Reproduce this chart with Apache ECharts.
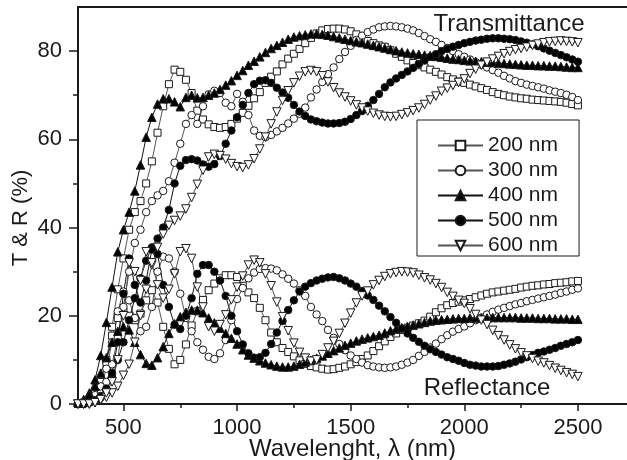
<!DOCTYPE html>
<html>
<head>
<meta charset="utf-8">
<title>T &amp; R spectra</title>
<script src="https://cdn.jsdelivr.net/npm/echarts@6.0.0/dist/echarts.min.js"></script>
<style>
  html, body { margin: 0; padding: 0; background: #fff; }
  #chart { width: 627px; height: 460px; }
</style>
</head>
<body>
<div id="chart"></div>
<script>
// wavelength grid, nm
var wavelength = [
  300, 325, 350, 375, 400, 425, 450, 475, 500,
  525, 550, 575, 600, 625, 650, 675, 700, 725, 750,
  775, 800, 825, 850, 875, 900, 925, 950, 975, 1000,
  1025, 1050, 1075, 1100, 1125, 1150, 1175, 1200, 1225, 1250,
  1275, 1300, 1325, 1350, 1375, 1400, 1425, 1450, 1475, 1500,
  1525, 1550, 1575, 1600, 1625, 1650, 1675, 1700, 1725, 1750,
  1775, 1800, 1825, 1850, 1875, 1900, 1925, 1950, 1975, 2000,
  2025, 2050, 2075, 2100, 2125, 2150, 2175, 2200, 2225, 2250,
  2275, 2300, 2325, 2350, 2375, 2400, 2425, 2450, 2475, 2500
];

// transmittance, %
var t200 = [
  0, 0.3, 1, 2.5, 5, 10, 17.5, 26, 33,
  39.5, 43.5, 46, 50, 55, 61.5, 67.5, 72.5, 75.8, 75.3,
  73.5, 70.5, 66.5, 64.5, 63.4, 62.8, 62.6, 62.8, 63.5, 64.7,
  66, 67.6, 69.3, 70.7, 72.8, 74.2, 75.4, 77, 78.3, 79.4,
  80.5, 81.8, 83, 84, 84.7, 85, 85.1, 85.1, 84.9, 84.5,
  83.8, 83, 82.3, 81.8, 81.3, 81, 80.2, 79.4, 78.7, 77.9,
  77.3, 76.8, 76.3, 75.8, 75.3, 74.7, 74.1, 73.6, 73.1, 72.8,
  72.4, 72, 71.6, 71.2, 70.7, 70.3, 70, 69.7, 69.5, 69.3,
  69.2, 69, 68.9, 68.8, 68.7, 68.6, 68.5, 68.3, 68, 67.7
];
var t300 = [
  0, 0.2, 0.5, 1.2, 2.5, 5, 9, 15, 22,
  30, 36.5, 39.5, 43.5, 46, 47.3, 48.3, 50.5, 54.7, 59,
  63.5, 65.5, 63.5, 67.5, 70.2, 71, 70.5, 68.3, 67.5, 70.3,
  68.5, 65.5, 62, 60.8, 60.5, 61, 61.8, 62.6, 63.6, 64.7,
  65.8, 67.2, 69.5, 71.3, 73, 74.8, 76.3, 78.2, 79.8, 81.2,
  82.5, 83.5, 84.3, 84.9, 85.4, 85.6, 85.7, 85.6, 85.4, 85.1,
  84.7, 84.1, 83.4, 82.7, 82.1, 81.4, 80.7, 80, 79.3, 78.7,
  78.1, 77.5, 76.9, 76.3, 75.7, 75.1, 74.4, 73.8, 73.2, 72.8,
  72.4, 72.1, 71.8, 71.5, 71.1, 70.8, 70.5, 70.1, 69.6, 68.9
];
var t400 = [
  0.5, 1, 2.5, 5.5, 11, 18.5, 26.5, 34.5, 39.5,
  43.5, 48.3, 54.2, 60.5, 65, 68, 69.2, 69.2, 68.5, 67.4,
  69.5, 70, 69.4, 69.5, 70, 70.5, 71.3, 72.3, 73.3, 74.5,
  75.6, 76.8, 77.7, 78.7, 79.7, 80.6, 81.3, 82, 82.7, 83.2,
  83.5, 83.7, 83.9, 83.9, 83.8, 83.6, 83.3, 83, 82.7, 82.4,
  82.1, 81.9, 81.6, 81.3, 81, 80.7, 80.4, 80.1, 79.8, 79.6,
  79.4, 79.3, 79.1, 79, 78.8, 78.6, 78.4, 78.2, 78.1, 77.9,
  77.8, 77.7, 77.6, 77.5, 77.4, 77.3, 77.2, 77.1, 77, 76.9,
  76.8, 76.8, 76.7, 76.7, 76.6, 76.6, 76.5, 76.4, 76.3, 76.3
];
var t500 = [
  0, 0, 0.3, 0.8, 1.8, 3.5, 6, 10, 14,
  19, 24, 28.5, 32.5, 35.5, 37.5, 40, 44, 50, 54,
  55.3, 55.5, 55.2, 54.3, 53.8, 54.4, 56.2, 59, 62, 65,
  67.8, 70.5, 72.5, 73.3, 73.4, 72.8, 71.7, 70.6, 69.4, 67.8,
  66.3, 65.3, 64.5, 64.1, 63.8, 63.6, 63.6, 63.7, 64, 64.6,
  65.5, 66.4, 67.6, 68.9, 70.3, 71.8, 72.9, 73.8, 74.6, 75.4,
  76.2, 77.1, 77.9, 78.7, 79.3, 80, 80.5, 81, 81.4, 81.8,
  82.1, 82.4, 82.6, 82.8, 82.9, 82.9, 82.8, 82.7, 82.5, 82.2,
  81.9, 81.5, 81.1, 80.6, 80.1, 79.6, 79.1, 78.6, 78.1, 77.6
];
var t600 = [
  0, 0, 0, 0.3, 0.8, 1.5, 2.5, 4, 6.5,
  9, 14, 20, 26, 31.5, 35.5, 38.5, 40.5, 41.6, 42.6,
  44.2, 46.8, 49.8, 53, 56, 56.6, 56.3, 55.5, 54.5, 53.8,
  53.6, 54.2, 55.6, 57.8, 60.5, 63.5, 66.2, 68.8, 71, 72.8,
  74.3, 75.3, 75.6, 75.3, 74.4, 73, 71.7, 70.5, 69.6, 68.7,
  67.8, 67.1, 66.4, 65.9, 65.5, 65.2, 65.1, 65.2, 65.6, 66,
  66.5, 67.1, 67.9, 68.9, 69.8, 70.9, 71.6, 72.2, 72.9, 73.7,
  74.9, 75.9, 76.8, 77.5, 78.2, 78.8, 79.4, 79.9, 80.3, 80.6,
  80.9, 81.3, 81.6, 81.9, 82.1, 82.2, 82.3, 82.2, 82.1, 81.9
];

// reflectance, %
var r200 = [
  0, 0.3, 1, 2.5, 5, 9.5, 15.5, 19.5, 21,
  20, 19, 20.5, 23.5, 25.8, 23, 17.5, 12.5, 9, 10,
  13.5, 17.8, 21, 23.6, 25.8, 27.3, 28.5, 29.2, 29.2, 28.8,
  26.8, 25.3, 24, 21.8, 19, 16.2, 14, 12.7, 11.8, 10.8,
  9.9, 9.1, 8.6, 8.3, 8, 7.8, 7.9, 8.2, 8.5, 9,
  9.5, 10.2, 11, 12, 13.1, 14.2, 15.2, 16, 16.8, 17.3,
  17.8, 18.3, 18.9, 19.8, 20.8, 21.7, 22.4, 22.9, 23.2, 23.5,
  23.8, 24.2, 24.6, 25, 25.3, 25.5, 25.7, 25.9, 26.1, 26.4,
  26.6, 26.8, 26.9, 27.1, 27.2, 27.4, 27.5, 27.6, 27.8, 27.9
];
var r300 = [
  0, 0.3, 1, 2, 4, 8, 14, 21, 25.5,
  23.5, 19.5, 16.5, 17.5, 22, 30, 33.4, 33, 30, 25,
  19.5, 16.5, 14, 12.3, 10.7, 10.2, 11.5, 14.5, 19, 23.8,
  26.3, 28.5, 29.8, 30.6, 30.8, 30.7, 30.3, 29.4, 28.4, 27.3,
  25.8, 24.5, 22, 20.3, 18.8, 16.8, 15, 13.6, 12.2, 11,
  10.2, 9.4, 8.8, 8.5, 8.3, 8.2, 8.3, 8.5, 8.9, 9.4,
  10, 10.9, 11.8, 12.8, 13.7, 14.7, 15.6, 16.4, 17, 17.6,
  18.3, 19, 19.6, 20.3, 20.9, 21.4, 21.8, 22.2, 22.6, 22.9,
  23.3, 23.6, 23.9, 24.2, 24.5, 24.8, 25.2, 25.5, 25.9, 26.2
];
var r400 = [
  0.3, 0.8, 2, 4, 7, 10.5, 14, 16.5, 17.5,
  16.8, 14, 11.2, 9.2, 8.8, 10.5, 13, 16, 18.2, 19.8,
  20.8, 21.3, 21.3, 20.7, 19.5, 18.4, 17.2, 16, 14.9, 13.6,
  12.3, 11.1, 10.4, 9.8, 9.3, 8.9, 8.6, 8.4, 8.4, 8.6,
  9, 9.5, 9.9, 10.4, 10.9, 11.5, 12.1, 12.7, 13.3, 13.8,
  14.3, 14.7, 15, 15.3, 15.6, 16.1, 16.6, 17, 17.3, 17.6,
  17.9, 18.2, 18.5, 18.8, 19, 19.1, 19.2, 19.3, 19.4, 19.4,
  19.5, 19.5, 19.5, 19.5, 19.6, 19.6, 19.6, 19.6, 19.6, 19.5,
  19.5, 19.5, 19.4, 19.4, 19.4, 19.3, 19.3, 19.3, 19.2, 19.2
];
var r500 = [
  0, 0, 0.3, 0.8, 1.5, 3, 7, 14, 25,
  33, 27, 23, 28, 35, 34, 27, 22, 18, 17,
  20, 24, 29.5, 31.5, 31.5, 30, 28, 24.5, 20, 16.5,
  13.5, 11.5, 10.5, 10.6, 11.6, 13.6, 16.2, 18.8, 21.3, 23.5,
  25.5, 26.6, 27.4, 28, 28.4, 28.7, 28.8, 28.5, 28, 27.3,
  26.6, 25.6, 24.6, 23.6, 22.3, 21, 19.7, 18.4, 17.1, 16,
  15, 14.1, 13.2, 12.4, 11.8, 11.2, 10.6, 10.2, 9.8, 9.3,
  8.9, 8.7, 8.5, 8.5, 8.5, 8.6, 8.9, 9.2, 9.6, 10.1,
  10.6, 11.1, 11.6, 11.9, 12.3, 12.7, 13.2, 13.6, 14, 14.5
];
var r600 = [
  0, 0, 0, 0.3, 1, 2.5, 5, 10, 20,
  32, 30, 28, 34.5, 32, 27, 24, 26, 29.5, 34.5,
  35.2, 33, 26.5, 22, 17.5, 16.5, 18, 20.2, 23.6, 26.5,
  29, 31.5, 32.6, 32, 29.5, 26.8, 23.1, 19.8, 16.6, 13.8,
  11.7, 10.4, 9.7, 10, 11.2, 12.7, 14.2, 16, 18.3, 20.6,
  22.9, 24.5, 25.6, 27, 28, 28.9, 29.5, 29.8, 30, 29.9,
  29.7, 29.2, 28.6, 28.1, 27.3, 26.4, 25.3, 24.4, 23.5, 22.8,
  21.6, 20.3, 19, 18, 16.7, 15.5, 14.5, 13.4, 12.5, 11.6,
  10.9, 10.3, 9.7, 9.3, 8.7, 8.1, 7.6, 7.1, 6.7, 6.2
];

var filmNames = ['200 nm', '300 nm', '400 nm', '500 nm', '600 nm'];
var xMajor = [500, 1000, 1500, 2000, 2500];
var xMinor = [750, 1250, 1750, 2250];
var yMajor = [0, 20, 40, 60, 80];
var yMinor = [10, 30, 50, 70];

var FONT = '"Liberation Sans", Arial, sans-serif';
var INK = '#1a1a1a';

var films = [
  {name: filmNames[0], T: t200, R: r200, symbol: 'rect', size: 7, rotate: 0, fill: '#fff', line: '#555'},
  {name: filmNames[1], T: t300, R: r300, symbol: 'circle', size: 7.5, rotate: 0, fill: '#fff', line: '#555'},
  {name: filmNames[2], T: t400, R: r400, symbol: 'triangle', size: 8.5, rotate: 0, fill: '#000', line: '#111'},
  {name: filmNames[3], T: t500, R: r500, symbol: 'circle', size: 7.5, rotate: 0, fill: '#000', line: '#111'},
  {name: filmNames[4], T: t600, R: r600, symbol: 'triangle', size: 8.5, rotate: 180, fill: '#fff', line: '#555'}
];

function pairs(vals) {
  return wavelength.map(function (w, i) { return [w, vals[i]]; });
}

var series = [];
films.forEach(function (f) {
  [f.T, f.R].forEach(function (vals) {
    series.push({
      name: f.name,
      type: 'line',
      data: pairs(vals),
      symbol: f.symbol,
      symbolSize: f.size,
      symbolRotate: f.rotate,
      showAllSymbol: true,
      lineStyle: {color: f.line, width: 1},
      itemStyle: {color: f.fill, borderColor: INK, borderWidth: 1},
      emphasis: {disabled: true}
    });
  });
});

var X_MIN = 300, X_MAX = 2716;
var tickStyle = {color: INK, width: 1.5};
var plain = function (v) { return String(v); };

var chart = echarts.init(document.getElementById('chart'));
chart.setOption({
  animation: false,
  backgroundColor: '#fff',
  grid: {left: 78, right: 0, top: 7, bottom: 56, containLabel: false, outerBoundsMode: 'none'},
  legend: {
    data: filmNames,
    orient: 'vertical',
    left: 417,
    top: 120,
    borderColor: INK,
    borderWidth: 1,
    padding: [15, 21, 0, 20],
    itemWidth: 45,
    itemHeight: 12,
    itemGap: 4,
    selectedMode: false,
    textStyle: {fontFamily: FONT, fontSize: 21, color: INK, lineHeight: 20}
  },
  xAxis: [
    {
      type: 'value', min: X_MIN, max: X_MAX, position: 'bottom',
      name: 'Wavelenght, \u03bb (nm)', nameLocation: 'middle', nameGap: 33, nameMoveOverlap: false,
      nameTextStyle: {fontFamily: FONT, fontSize: 24, color: INK},
      axisLine: {lineStyle: {color: INK, width: 2}},
      axisTick: {length: 7, customValues: xMajor, lineStyle: tickStyle},
      axisLabel: {customValues: xMajor, formatter: plain, fontFamily: FONT, fontSize: 22, color: INK, margin: 13},
      splitLine: {show: false}
    },
    {
      type: 'value', min: X_MIN, max: X_MAX, position: 'bottom',
      axisLine: {show: false},
      axisTick: {length: 4, customValues: xMinor, lineStyle: tickStyle},
      axisLabel: {show: false},
      splitLine: {show: false}
    },
    {
      type: 'value', min: X_MIN, max: X_MAX, position: 'top',
      axisLine: {lineStyle: {color: INK, width: 2}},
      axisTick: {show: false},
      axisLabel: {show: false},
      splitLine: {show: false}
    }
  ],
  yAxis: [
    {
      type: 'value', min: 0, max: 90, position: 'left',
      axisLine: {show: true, lineStyle: {color: INK, width: 2}},
      axisTick: {show: true, length: 9, customValues: yMajor, lineStyle: tickStyle},
      axisLabel: {customValues: yMajor, formatter: plain, fontFamily: FONT, fontSize: 22, color: INK, margin: 16},
      splitLine: {show: false}
    },
    {
      type: 'value', min: 0, max: 90, position: 'left',
      axisLine: {show: false},
      axisTick: {show: true, length: 5, customValues: yMinor, lineStyle: tickStyle},
      axisLabel: {show: false},
      splitLine: {show: false}
    }
  ],
  graphic: [
    {
      type: 'text', x: 21, y: 218, rotation: Math.PI / 2,
      style: {text: 'T & R (%)', font: '22px ' + FONT, fill: INK, align: 'center', verticalAlign: 'middle'}
    },
    {
      type: 'text', x: 509, y: 24,
      style: {text: 'Transmittance', font: '24px ' + FONT, fill: INK, align: 'center', verticalAlign: 'middle'}
    },
    {
      type: 'text', x: 487, y: 388,
      style: {text: 'Reflectance', font: '24px ' + FONT, fill: INK, align: 'center', verticalAlign: 'middle'}
    }
  ],
  series: series
});
</script>
</body>
</html>
